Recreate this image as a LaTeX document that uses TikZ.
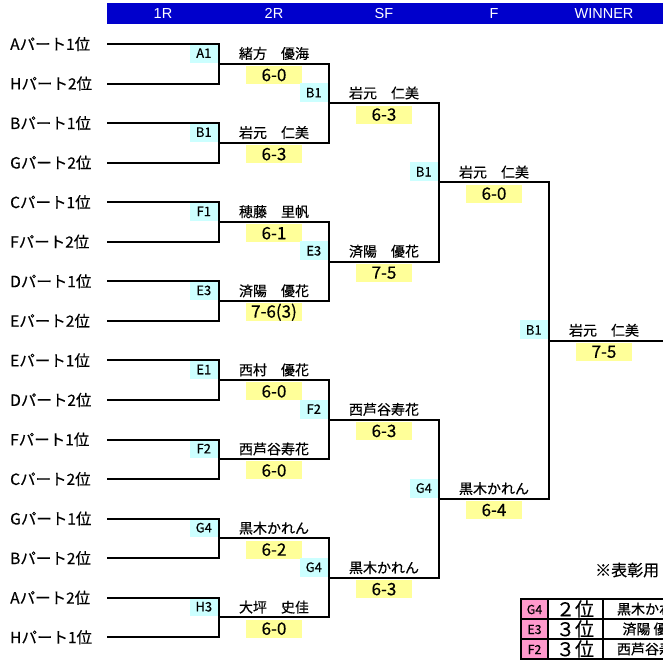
\documentclass[tikz,border=0pt]{standalone}
\usepackage{fontspec}
\setmainfont{Noto Sans CJK JP}[BoldFont=Noto Sans CJK JP, BoldFeatures={FakeBold=0.4}]
\newfontfamily\latinfont{Liberation Sans}
\definecolor{headblue}{RGB}{0,0,204}
\definecolor{seedcyan}{RGB}{204,255,255}
\definecolor{scoreyellow}{RGB}{255,255,153}
\definecolor{rankpink}{RGB}{255,153,204}
\newcommand{\fsz}[1]{\fontsize{#1pt}{#1pt}\selectfont\bfseries}
\begin{document}
\begin{tikzpicture}[x=1pt, y=-1pt,
    entry/.style={anchor=west, inner sep=0pt, font=\fsz{15.5}},
    seed/.style={fill=seedcyan, minimum width=28pt, minimum height=19pt,
      inner sep=0pt, anchor=south east, xshift=-1pt, yshift=1pt, font=\fsz{13}},
    player/.style={anchor=base, inner sep=0pt, font=\fsz{14}},
    score/.style={fill=scoreyellow, minimum width=56pt, minimum height=18pt,
      inner sep=0pt, anchor=north, font=\fsz{17}},
    bracket/.style={line width=2pt},
    head/.style={text=white, font=\latinfont\fontsize{14.5pt}{14.5pt}\selectfont},
    cell/.style={inner sep=0pt, font=\fsz{14}}
  ]
  \useasboundingbox (0,0) rectangle (663,662);
  \clip (0,0) rectangle (663,662);

  % Header bar
  \fill[headblue] (107,3) rectangle (663,24);
  \node[head] (h1) at (163,13.5) {1R};
  \node[head] (h2) at (274,13.5) {2R};
  \node[head] (h3) at (384,13.5) {SF};
  \node[head] (h4) at (494,13.5) {F};
  \node[head] (h5) at (604,13.5) {WINNER};

  % Entries
  \foreach \prt/\rnk [count=\i from 0] in {A/1,H/2,B/1,G/2,C/1,F/2,D/1,E/2,
      E/1,D/2,F/1,C/2,G/1,B/2,A/2,H/1} {
    \node[entry] (p\i) at (10,{44+39.55*\i}) {\prt パート\rnk 位};
    \coordinate (e\i) at (107,{44+39.55*\i});
  }

  % 1R results
  \foreach \sd/\nm/\scr [count=\j] in {A1/緒方　優海/6-0, B1/岩元　仁美/6-3,
      F1/穂藤　里帆/6-1, E3/済陽　優花/7-6(3), E1/西村　優花/6-0,
      F2/西芦谷寿花/6-0, G4/黒木かれん/6-2, H3/大坪　史佳/6-0} {
    \pgfmathsetmacro{\ym}{63.78+79.1*(\j-1)}
    \coordinate (a\j) at (219,\ym);
    \node[seed] (sa\j) at (a\j) {\sd};
    \node[player] (na\j) at (274,\ym-5) {\nm};
    \node[score] (ra\j) at (274,\ym+2) {\scr};
  }
  \foreach \j [evaluate=\j as \t using int(2*\j-2),
      evaluate=\j as \u using int(2*\j-1)] in {1,...,8}
    \draw[bracket] (e\t) -| (a\j) |- (e\u);

  % 2R results
  \foreach \sd/\nm/\scr [count=\j] in {B1/岩元　仁美/6-3, E3/済陽　優花/7-5,
      F2/西芦谷寿花/6-3, G4/黒木かれん/6-3} {
    \pgfmathsetmacro{\ym}{103.33+158.2*(\j-1)}
    \coordinate (b\j) at (329,\ym);
    \node[seed] (sb\j) at (b\j) {\sd};
    \node[player] (nb\j) at (384,\ym-5) {\nm};
    \node[score] (rb\j) at (384,\ym+2) {\scr};
  }
  \foreach \j [evaluate=\j as \t using int(2*\j-1),
      evaluate=\j as \u using int(2*\j)] in {1,...,4}
    \draw[bracket] (a\t) -| (b\j) |- (a\u);

  % SF results
  \foreach \sd/\nm/\scr [count=\j] in {B1/岩元　仁美/6-0, G4/黒木かれん/6-4} {
    \pgfmathsetmacro{\ym}{182.43+316.4*(\j-1)}
    \coordinate (c\j) at (439,\ym);
    \node[seed] (sc\j) at (c\j) {\sd};
    \node[player] (nc\j) at (494,\ym-5) {\nm};
    \node[score] (rc\j) at (494,\ym+2) {\scr};
  }
  \draw[bracket] (b1) -| (c1) |- (b2);
  \draw[bracket] (b3) -| (c2) |- (b4);

  % Final
  \coordinate (d1) at (549,340.6);
  \node[seed] (sd1) at (d1) {B1};
  \node[player] (nd1) at (604,335.6) {岩元　仁美};
  \node[score] (rd1) at (604,342.6) {7-5};
  \draw[bracket] (c1) -| (d1) |- (c2);
  \coordinate (w) at (663,340.6);
  \draw[bracket] (d1) -- (w);

  % Awards table
  \node[anchor=west, inner sep=0pt, font=\fsz{16}] (award) at (595,570) {※表彰用};
  \fill[rankpink] (521,599) rectangle (548,659);
  \draw[line width=2.2pt] (521,599) rectangle (700,659);
  \draw[line width=2pt] (521,619) -- (700,619) (521,639) -- (700,639)
    (548,599) -- (548,659) (603,599) -- (603,659);
  \node[cell, font=\fsz{12.5}] (k1) at (534.5,609.5) {G4};
  \node[cell, font=\fsz{12.5}] (k2) at (534.5,629.5) {E3};
  \node[cell, font=\fsz{12.5}] (k3) at (534.5,649.5) {F2};
  \node[cell, font=\fsz{19}] (q1) at (575,609) {２位};
  \node[cell, font=\fsz{19}] (q2) at (575,629) {３位};
  \node[cell, font=\fsz{19}] (q3) at (575,649) {３位};
  \node[cell] (t1) at (652,609) {黒木かれん};
  \node[cell] (t2) at (652,629) {済陽 優花};
  \node[cell] (t3) at (652,649) {西芦谷寿花};
\end{tikzpicture}
\end{document}
